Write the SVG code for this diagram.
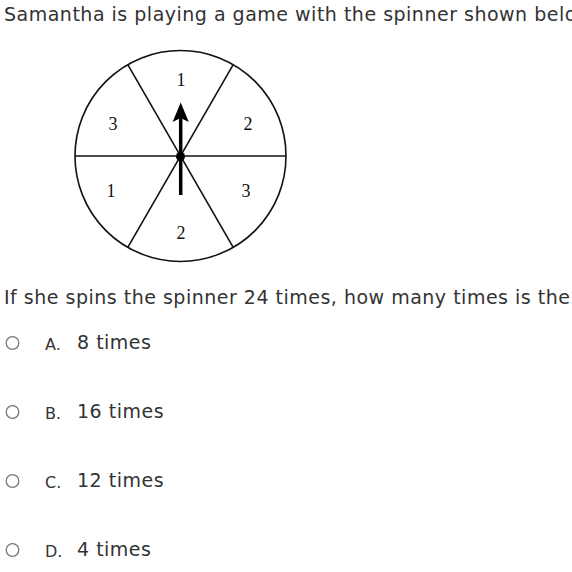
<svg xmlns="http://www.w3.org/2000/svg" width="572" height="572" viewBox="0 0 572 572">
<style>
.q{font-family:"DejaVu Sans",Verdana,sans-serif;font-size:19px;letter-spacing:0.5px;fill:#333}
.lbl{font-family:"DejaVu Sans",Verdana,sans-serif;font-size:16px;fill:#333}
.num{font-family:"Liberation Serif","Times New Roman",serif;font-size:18px;fill:#111;text-anchor:middle}
.ln{stroke:#111;stroke-width:1.6;fill:none}
.radio{fill:#fff;stroke:#777;stroke-width:1.3}
</style>
<rect width="572" height="572" fill="#fff"/>
<text class="q" x="4" y="21">Samantha is playing a game with the spinner shown below.</text>
<g id="spinner">
<circle class="ln" cx="180.5" cy="156" r="105.5"/>
<line class="ln" x1="75" y1="156" x2="286" y2="156"/>
<line class="ln" x1="127.8" y1="64.6" x2="233.2" y2="247.4"/>
<line class="ln" x1="233.2" y1="64.6" x2="127.8" y2="247.4"/>
<line x1="180.7" y1="195" x2="180.7" y2="118" stroke="#000" stroke-width="3.5"/>
<polygon points="180.7,102.5 172.6,122 180.7,118 188.8,122" fill="#000"/>
<circle cx="180.5" cy="156.5" r="4.5" fill="#000"/>
<text class="num" x="181" y="86">1</text>
<text class="num" x="113" y="130">3</text>
<text class="num" x="248" y="130">2</text>
<text class="num" x="111" y="197">1</text>
<text class="num" x="246" y="197">3</text>
<text class="num" x="181" y="239">2</text>
</g>
<text class="q" x="4" y="304">If she spins the spinner 24 times, how many times is the</text>
<g id="optA">
<circle class="radio" cx="12.5" cy="343" r="6.3"/>
<text class="lbl" x="45" y="350">A.</text>
<text class="q" x="77" y="349">8 times</text>
</g>
<g id="optB">
<circle class="radio" cx="12.5" cy="412" r="6.3"/>
<text class="lbl" x="45" y="419">B.</text>
<text class="q" x="77" y="418">16 times</text>
</g>
<g id="optC">
<circle class="radio" cx="12.5" cy="481" r="6.3"/>
<text class="lbl" x="45" y="488">C.</text>
<text class="q" x="77" y="487">12 times</text>
</g>
<g id="optD">
<circle class="radio" cx="12.5" cy="550" r="6.3"/>
<text class="lbl" x="45" y="557">D.</text>
<text class="q" x="77" y="556">4 times</text>
</g>
</svg>
